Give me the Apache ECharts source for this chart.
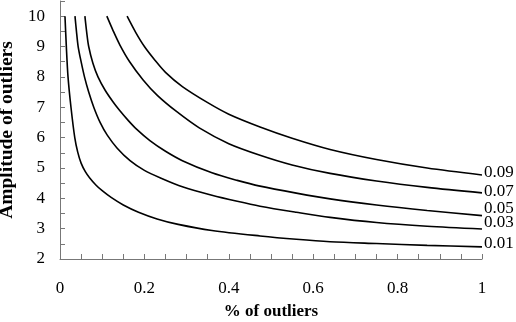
<!DOCTYPE html>
<html>
<head>
<meta charset="utf-8">
<script src="https://cdn.jsdelivr.net/npm/echarts@6/dist/echarts.min.js"></script>
<style>html,body{margin:0;padding:0;background:#fff}#c{width:516px;height:322px}</style>
</head>
<body>
<div id="c"></div>
<script>
// Curve names (end labels)
const curveNames = ['0.09', '0.07', '0.05', '0.03', '0.01'];
// Each curve: [% of outliers, amplitude of outliers]
const curve009 = [[0.159,10],[0.18,9.45],[0.2,9.0],[0.225,8.55],[0.25,8.15],[0.29,7.68],[0.35,7.15],[0.4,6.77],[0.474,6.35],[0.55,5.98],[0.64,5.61],[0.75,5.28],[0.87,5.0],[1,4.77]];
const curve007 = [[0.111,10],[0.125,9.55],[0.142,9.05],[0.165,8.5],[0.197,7.9],[0.23,7.4],[0.276,6.86],[0.33,6.32],[0.4,5.8],[0.474,5.42],[0.55,5.1],[0.64,4.82],[0.75,4.57],[0.87,4.36],[1,4.18]];
const curve005 = [[0.059,10],[0.063,9.5],[0.068,9],[0.078,8.45],[0.09,8],[0.107,7.56],[0.125,7.19],[0.141,6.9],[0.162,6.56],[0.182,6.27],[0.213,5.9],[0.25,5.55],[0.29,5.24],[0.36,4.84],[0.42,4.59],[0.474,4.4],[0.56,4.17],[0.64,3.98],[0.75,3.78],[0.87,3.6],[1,3.43]];
const curve003 = [[0.0355,10],[0.039,9.5],[0.043,9],[0.05,8.5],[0.058,8],[0.068,7.5],[0.08,7.0],[0.095,6.5],[0.112,6.08],[0.135,5.66],[0.166,5.24],[0.2,4.92],[0.24,4.66],[0.29,4.38],[0.36,4.1],[0.42,3.9],[0.474,3.74],[0.56,3.54],[0.64,3.37],[0.75,3.2],[0.87,3.08],[1,2.99]];
const curve001 = [[0.0118,10],[0.015,9],[0.019,8],[0.026,7],[0.035,6],[0.042,5.52],[0.05,5.16],[0.06,4.88],[0.07,4.68],[0.085,4.44],[0.1,4.25],[0.122,4.02],[0.15,3.78],[0.186,3.54],[0.23,3.32],[0.28,3.14],[0.36,2.94],[0.474,2.76],[0.56,2.65],[0.64,2.57],[0.75,2.51],[0.87,2.45],[1,2.40]];
const curves = [curve009, curve007, curve005, curve003, curve001];
const labelShift = [-2, -1, -7, -6, -3];
// Axis ticks
const xTickLabels = ['0', '0.2', '0.4', '0.6', '0.8', '1'];
const yTickLabels = ['2', '3', '4', '5', '6', '7', '8', '9', '10'];

const FONT = "'Liberation Serif', 'Times New Roman', serif";
const chart = echarts.init(document.getElementById('c'), null, {renderer: 'canvas'});
const near = (v, arr) => arr.some(s => Math.abs(parseFloat(s) - v) < 1e-6);
chart.setOption({
  animation: false,
  backgroundColor: '#fff',
  grid: {left: 60, right: 34, top: 1, bottom: 63, containLabel: false, outerBoundsMode: 'none'},
  xAxis: {
    type: 'value', min: 0, max: 1, interval: 0.05,
    name: '% of outliers', nameLocation: 'middle', nameGap: 44,
    nameTextStyle: {fontFamily: FONT, fontWeight: 'bold', fontSize: 17, color: '#000'},
    axisLine: {lineStyle: {color: '#777', width: 1}},
    axisTick: {inside: true, length: 5, lineStyle: {color: '#777'}},
    splitLine: {show: false},
    axisLabel: {
      fontFamily: FONT, fontSize: 17, color: '#000', margin: 21,
      formatter: v => { const s = String(Math.round(v * 100) / 100); return near(v, xTickLabels) ? s : ''; }
    }
  },
  yAxis: {
    type: 'value', min: 2, max: 10.5, interval: 0.5,
    name: 'Amplitude of outliers', nameLocation: 'middle', nameGap: 40, nameRotate: 90,
    nameTextStyle: {fontFamily: FONT, fontWeight: 'bold', fontSize: 19.5, color: '#000'},
    axisLine: {show: true, lineStyle: {color: '#777', width: 1}},
    axisTick: {show: true, inside: true, length: 5, lineStyle: {color: '#777'}},
    splitLine: {show: false},
    axisLabel: {
      fontFamily: FONT, fontSize: 17, color: '#000', margin: 15,
      formatter: v => { const s = String(Math.round(v * 100) / 100); return near(v, yTickLabels) ? s : ''; }
    }
  },
  series: curves.map((d, i) => ({
    type: 'line', name: curveNames[i], data: d, smooth: 0.3,
    showSymbol: false, symbol: 'none', clip: false,
    lineStyle: {color: '#000', width: 1.6},
    endLabel: {show: true, formatter: curveNames[i], distance: 2, offset: [0, labelShift[i]],
      fontFamily: FONT, fontSize: 17, color: '#000'}
  }))
});
</script>
</body>
</html>
